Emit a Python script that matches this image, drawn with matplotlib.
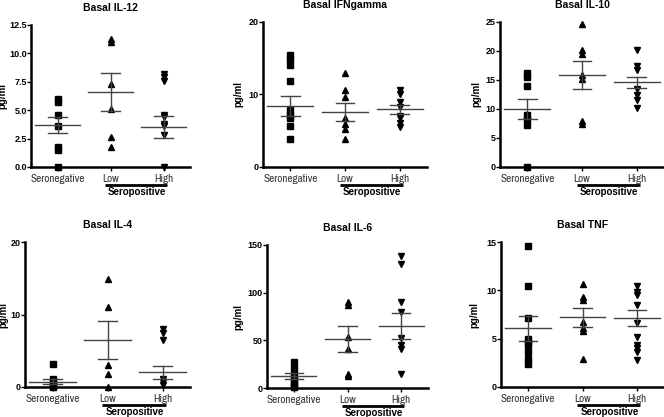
import matplotlib
matplotlib.use("Agg")
import matplotlib.pyplot as plt

plt.rcParams['font.family'] = ['Liberation Sans', 'DejaVu Sans']
narrow = ['Liberation Sans Narrow', 'Archivo Narrow', 'Liberation Sans']

groups = ["Seronegative", "Low", "High"]

# values (pg/ml)
il12_neg = [6.0, 5.7, 4.6, 3.6, 1.8, 1.5, 0.0]
il12_low = [11.3, 11.0, 7.3, 5.1, 2.6, 1.8]
il12_high = [8.2, 7.9, 7.6, 4.6, 4.4, 3.8, 3.6, 2.8, 0.0]
il12_mean = [3.7, 6.6, 3.5]
il12_sem = [0.7, 1.65, 0.95]

ifn_neg = [15.4, 14.9, 14.0, 11.8, 7.8, 7.2, 6.7, 5.7, 3.8]
ifn_low = [13.0, 10.6, 9.7, 6.7, 5.9, 5.3, 3.9]
ifn_high = [10.6, 10.1, 9.0, 8.3, 7.1, 6.7, 6.1, 5.5]
ifn_mean = [8.4, 7.6, 7.95]
ifn_sem = [1.38, 1.27, 0.6]

il10_neg = [16.2, 15.5, 13.9, 8.9, 8.3, 7.2, 0.0]
il10_low = [24.7, 20.2, 19.5, 15.8, 15.1, 8.0, 7.4]
il10_high = [20.2, 17.4, 16.7, 13.5, 12.4, 11.5, 10.2]
il10_mean = [10.0, 15.8, 14.6]
il10_sem = [1.64, 2.4, 0.92]

il4_neg = [3.2, 1.15, 0.8, 0.46, 0.2, 0.0]
il4_low = [14.9, 11.1, 3.1, 1.85, 0.0]
il4_high = [8.0, 7.4, 6.5, 1.15, 0.7, 0.23]
il4_mean = [0.72, 6.5, 2.03]
il4_sem = [0.35, 2.6, 0.92]

il6_neg = [27, 20, 13, 10, 6, 3, 1]
il6_low = [90, 87, 54, 41, 15, 13]
il6_high = [138, 130, 90, 80, 52, 45, 41, 15]
il6_mean = [13, 51.5, 64.7]
il6_sem = [3.2, 13.7, 13.5]

tnf_neg = [14.6, 10.4, 7.1, 5.0, 4.7, 4.3, 3.6, 2.9, 2.4]
tnf_low = [10.7, 9.35, 9.0, 6.75, 6.06, 5.8, 2.9]
tnf_high = [10.5, 9.8, 9.5, 8.5, 6.6, 5.2, 4.3, 4.0, 3.6, 2.8]
tnf_mean = [6.06, 7.2, 7.15]
tnf_sem = [1.32, 1.0, 0.82]

panels = [
    ("Basal IL-12", [il12_neg, il12_low, il12_high], il12_mean, il12_sem,
     [0, 2.5, 5.0, 7.5, 10.0, 12.5], ["0.0", "2.5", "5.0", "7.5", "10.0", "12.5"],
     (31, 190, 25, 167), 24),
    ("Basal IFNgamma", [ifn_neg, ifn_low, ifn_high], ifn_mean, ifn_sem,
     [0, 10, 20], ["0", "10", "20"], (263, 427, 22, 167), 20),
    ("Basal IL-10", [il10_neg, il10_low, il10_high], il10_mean, il10_sem,
     [0, 5, 10, 15, 20, 25], ["0", "5", "10", "15", "20", "25"],
     (500, 664, 22, 167), 19),
    ("Basal IL-4", [il4_neg, il4_low, il4_high], il4_mean, il4_sem,
     [0, 10, 20], ["0", "10", "20"], (25, 190, 242, 387), 17),
    ("Basal IL-6", [il6_neg, il6_low, il6_high], il6_mean, il6_sem,
     [0, 50, 100, 150], ["0", "50", "100", "150"], (267, 428, 245, 388), 24),
    ("Basal TNF", [tnf_neg, tnf_low, tnf_high], tnf_mean, tnf_sem,
     [0, 5, 10, 15], ["0", "5", "10", "15"], (501, 664, 242, 387), 22),
]

markers = ["s", "^", "v"]
W, H = 664, 417
fig = plt.figure(figsize=(W / 100, H / 100), dpi=100)

for title, vals, means, sems, yt, ytl, (l, r, t, b), ylab_off in panels:
    ax = fig.add_axes([l / W, 1 - b / H, (r - l) / W, (b - t) / H])
    for i, v in enumerate(vals):
        ax.plot([i] * len(v), v, ls="none", marker=markers[i], ms=4,
                color="black", clip_on=False, zorder=3)
        m, s = means[i], sems[i]
        ax.plot([i - 0.42, i + 0.42], [m, m], color="#444444", lw=1.0, zorder=4)
        ax.plot([i, i], [m - s, m + s], color="#444444", lw=1.0, zorder=4)
        for y in (m - s, m + s):
            ax.plot([i - 0.17, i + 0.17], [y, y], color="#444444", lw=1.0, zorder=4)
    ax.set_xlim(-0.5, 2.5)
    ax.set_ylim(0, yt[-1])
    ax.set_yticks(yt)
    ax.set_yticklabels(ytl, fontsize=6.5, fontweight="bold")
    ax.set_xticks(range(3))
    ax.set_xticklabels(groups, fontsize=8, color="#333333", family=narrow)
    ax.tick_params(axis="y", length=3, width=1, pad=0)
    ax.tick_params(axis="x", length=3, width=1, pad=2)
    for side in ("top", "right"):
        ax.spines[side].set_visible(False)
    for side in ("left", "bottom"):
        ax.spines[side].set_linewidth(1.8)
    ax.set_title(title, fontsize=7.5, fontweight="bold", pad=10)
    ax.set_ylabel("pg/ml", fontsize=7, fontweight="bold")
    ax.yaxis.set_label_coords(-ylab_off / (r - l), 0.5)
    tr = ax.get_xaxis_transform()
    h = b - t
    ax.plot([0.9, 2.06], [-18 / h, -18 / h], transform=tr, color="black",
            lw=2, clip_on=False, solid_capstyle="butt")
    ax.text(1.5, -20 / h, "Seropositive", transform=tr, ha="center", va="top",
            fontsize=7, fontweight="bold")

fig.savefig("out.png", dpi=100)
